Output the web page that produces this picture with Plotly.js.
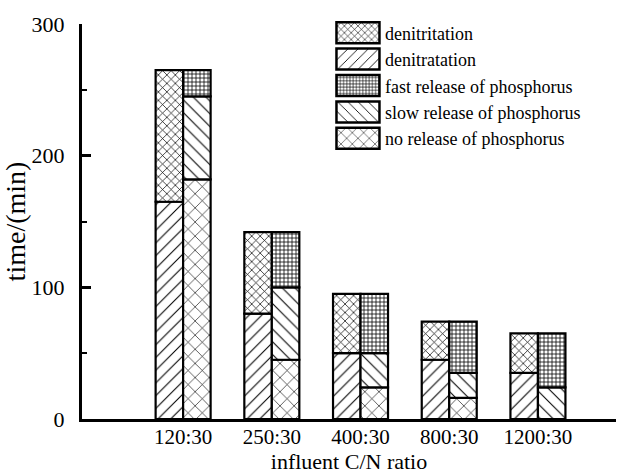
<!DOCTYPE html>
<html>
<head>
<meta charset="utf-8">
<script src="https://cdn.plot.ly/plotly-3.0.1.min.js"></script>
<style>html,body{margin:0;padding:0;background:#fff;}#chart{width:618px;height:474px;}</style>
</head>
<body>
<div id="chart"></div>
<script>
// ---- data ----
const categories = ['120:30', '250:30', '400:30', '800:30', '1200:30'];
const denitratation = [165, 80, 50, 45, 35];
const denitritation = [100, 62, 45, 29, 30];
const noRelease = [182, 45, 24, 16, 0];
const slowRelease = [63, 55, 26, 19, 24];
const fastRelease = [20, 42, 45, 39, 41];
const yTickVals = [0, 100, 200, 300];

// ---- styling ----
const FONT = 'Liberation Serif';
const BW = 0.31;
const add = (a, b) => a.map((v, i) => v + b[i]);
const zeros = categories.map(() => 0);

function barTrace(name, y, base, side, shape, size, solidity, rank) {
  return {
    type: 'bar', name: name, x: categories, y: y, base: base,
    offset: side === 'left' ? -BW : 0, width: BW,
    legendrank: rank, legendgroup: 'g' + rank,
    marker: {
      color: '#ffffff',
      line: {color: '#000000', width: 2.2},
      pattern: {shape: shape, size: size, solidity: solidity, fgcolor: '#000000', bgcolor: '#ffffff', fillmode: 'replace'}
    },
    hoverinfo: 'skip'
  };
}

const data = [
  barTrace('denitratation', denitratation, zeros, 'left', '/', 9, 0.12, 2),
  barTrace('denitritation', denitritation, denitratation, 'left', 'x', 6, 0.22, 1),
  barTrace('no release of phosphorus', noRelease, zeros, 'right', 'x', 10, 0.12, 5),
  barTrace('slow release of phosphorus', slowRelease, noRelease, 'right', '\\', 9, 0.12, 4),
  barTrace('fast release of phosphorus', fastRelease, add(noRelease, slowRelease), 'right', '+', 4, 0.35, 3)
];

const layout = {
  width: 618, height: 474,
  margin: {l: 82, r: 2, t: 24, b: 55},
  paper_bgcolor: '#ffffff', plot_bgcolor: '#ffffff',
  barmode: 'overlay',
  font: {family: FONT, color: '#000000', size: 20},
  showlegend: true,
  legend: {
    x: 0.455, y: 1.024, xanchor: 'left', yanchor: 'top',
    traceorder: 'grouped', tracegroupgap: 0,
    itemwidth: 50, bgcolor: 'rgba(0,0,0,0)', borderwidth: 0,
    font: {family: FONT, size: 18, color: '#000000'}
  },
  xaxis: {
    type: 'category', categoryorder: 'array', categoryarray: categories,
    range: [-1.14, 4.88], fixedrange: true,
    showline: true, linecolor: '#000000', linewidth: 3,
    ticks: '', showgrid: false, zeroline: false,
    tickfont: {family: FONT, size: 21, color: '#000000'},
    ticklabelstandoff: -3,
    title: {text: 'influent C/N ratio', font: {family: FONT, size: 22, color: '#000000'}, standoff: 4}
  },
  yaxis: {
    range: [0, 300], fixedrange: true,
    tickvals: yTickVals, ticktext: yTickVals.map(String),
    showline: true, linecolor: '#000000', linewidth: 3,
    ticks: 'inside', ticklen: 9, tickwidth: 2.5, tickcolor: '#000000',
    minor: {dtick: 50, tick0: 0, ticks: 'inside', ticklen: 5, tickwidth: 2, tickcolor: '#000000', showgrid: false},
    showgrid: false, zeroline: false,
    tickfont: {family: FONT, size: 22, color: '#000000'},
    ticklabelstandoff: 10,
    title: {text: 'time/(min)', font: {family: FONT, size: 28, color: '#000000'}, standoff: 2}
  }
};

Plotly.newPlot('chart', data, layout, {staticPlot: true, displayModeBar: false}).then(function () {
  // enlarge legend swatches to match the reference's wide boxes
  document.querySelectorAll('#chart .legend .traces').forEach(function (tr) {
    const txt = tr.querySelector('text.legendtext');
    const p = tr.querySelector('.legendpoints path');
    if (!txt || !p) return;
    const tx = parseFloat(txt.getAttribute('x')) || 40;
    p.setAttribute('d', 'M21.5,10.5H-21.5V-10.5H21.5Z');
    p.setAttribute('transform', 'translate(' + (tx - 27) + ',0)');
    p.style.strokeWidth = '2.5px';
  });
});
</script>
</body>
</html>
